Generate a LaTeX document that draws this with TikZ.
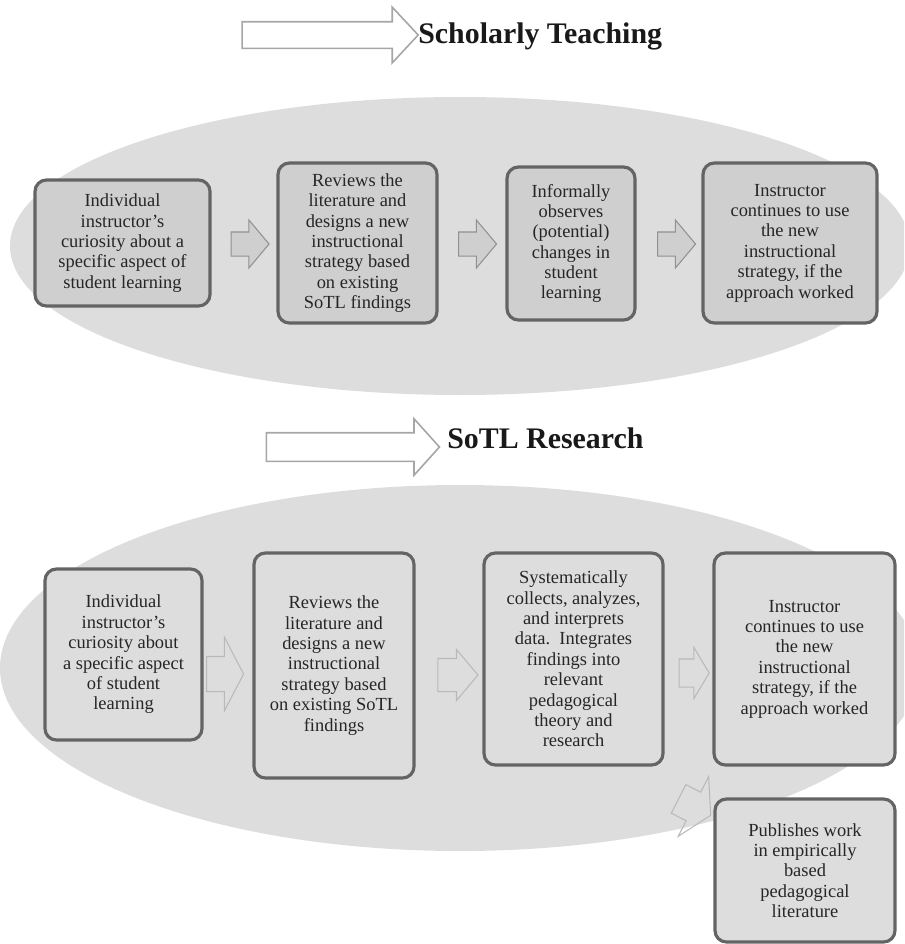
\documentclass[tikz,border=0pt]{standalone}
\usepackage{fontspec}
\setmainfont{Liberation Serif}
\usetikzlibrary{shapes.arrows, positioning}
\definecolor{ovalgray}{RGB}{221,221,221}
\definecolor{boxgray}{RGB}{207,207,207}
\definecolor{framegray}{RGB}{100,100,100}
\definecolor{pointgray}{RGB}{145,145,145}
\newlength{\pxu}
\setlength{\pxu}{0.02cm}

\begin{document}
\begin{tikzpicture}[
    x=0.02cm, y=-0.02cm,
    stage/.style={draw=framegray, line width=1.8pt, rounded corners=6.5pt, align=center, inner sep=0pt,
        font=\fontsize{10.5}{11.6}\selectfont, text=black!85},
    topstage/.style={stage, fill=boxgray},
    lowstage/.style={stage, fill=ovalgray},
    blockarrow/.style n args={4}{single arrow, single arrow head indent=0pt, inner xsep=0pt,
        inner ysep=#2*\pxu/2, single arrow head extend=(#3-#2)*\pxu/2,
        minimum height=#1*\pxu, single arrow tip angle=#4},
    titlearrow/.style={draw=gray!70, line width=0.9pt, fill=white},
    toparrow/.style={draw=pointgray, line width=0.6pt, fill=boxgray},
    lowarrow/.style={draw=gray!55, line width=0.6pt},
    heading/.style={font=\fontsize{17}{20}\selectfont\bfseries, text=black!90, inner sep=0pt}
]
    \useasboundingbox (0,0) rectangle (904,944);
    \clip (0,0) rectangle (904,944);

    % Scholarly Teaching
    \node[titlearrow, blockarrow={176}{25}{54}{94}] (sharrow) at (324,35) {};
    \node[heading, anchor=base west] (stitle) at (418,43) {Scholarly Teaching};

    \fill[ovalgray] (460,246) ellipse [x radius=450, y radius=149];

    \node[topstage, minimum width=175*\pxu, minimum height=126*\pxu] (t1) at (122.5,243)
        {Individual\\instructor’s\\curiosity about a\\specific aspect of\\student learning};
    \node[topstage, minimum width=159*\pxu, minimum height=160*\pxu] (t2) at (357.5,243)
        {Reviews the\\literature and\\designs a new\\instructional\\strategy based\\on existing\\SoTL findings};
    \node[topstage, minimum width=128*\pxu, minimum height=153*\pxu] (t3) at (571,243.5)
        {Informally\\observes\\(potential)\\changes in\\student\\learning};
    \node[topstage, minimum width=174*\pxu, minimum height=160*\pxu] (t4) at (790,243)
        {Instructor\\continues to use\\the new\\instructional\\strategy, if the\\approach worked};

    \node[toparrow, blockarrow={38}{23}{47}{100}] (ta1) at (245,244) {};
    \node[toparrow, blockarrow={38}{23}{47}{100}] (ta2) at (472.5,244) {};
    \node[toparrow, blockarrow={38}{23}{47}{100}] (ta3) at (671.5,244) {};

    % SoTL Research
    \node[titlearrow, blockarrow={173}{27}{55}{96}] (rarrow) at (346.5,447) {};
    \node[heading, anchor=base west] (rtitle) at (447,448) {SoTL Research};

    \fill[ovalgray] (460,668) ellipse [x radius=460, y radius=183];

    \node[lowstage, minimum width=157*\pxu, minimum height=171*\pxu] (b1) at (123.5,654.5)
        {Individual\\instructor’s\\curiosity about\\a specific aspect\\of student\\learning};
    \node[lowstage, minimum width=160*\pxu, minimum height=225*\pxu] (b2) at (334,665.5)
        {Reviews the\\literature and\\designs a new\\instructional\\strategy based\\on existing SoTL\\findings};
    \node[lowstage, minimum width=179*\pxu, minimum height=212*\pxu] (b3) at (573.5,659)
        {Systematically\\collects, analyzes,\\and interprets\\data.\ \ Integrates\\findings into\\relevant\\pedagogical\\theory and\\research};
    \node[lowstage, minimum width=181*\pxu, minimum height=212*\pxu] (b4) at (804.5,659)
        {Instructor\\continues to use\\the new\\instructional\\strategy, if the\\approach worked};
    \node[lowstage, minimum width=180*\pxu, minimum height=143*\pxu] (b5) at (805,870.5)
        {Publishes work\\in empirically\\based\\pedagogical\\literature};

    \node[lowarrow, blockarrow={37}{34}{73}{125}] (ba1) at (220.5,674) {};
    \node[lowarrow, blockarrow={40}{32}{50}{100}] (ba2) at (451,675) {};
    \node[lowarrow, blockarrow={30}{27}{50}{118}] (ba3) at (690,673) {};
    \node[lowarrow, blockarrow={36}{31}{66}{120}, rotate=-27] (ba4) at (690.5,805) {};
\end{tikzpicture}
\end{document}
